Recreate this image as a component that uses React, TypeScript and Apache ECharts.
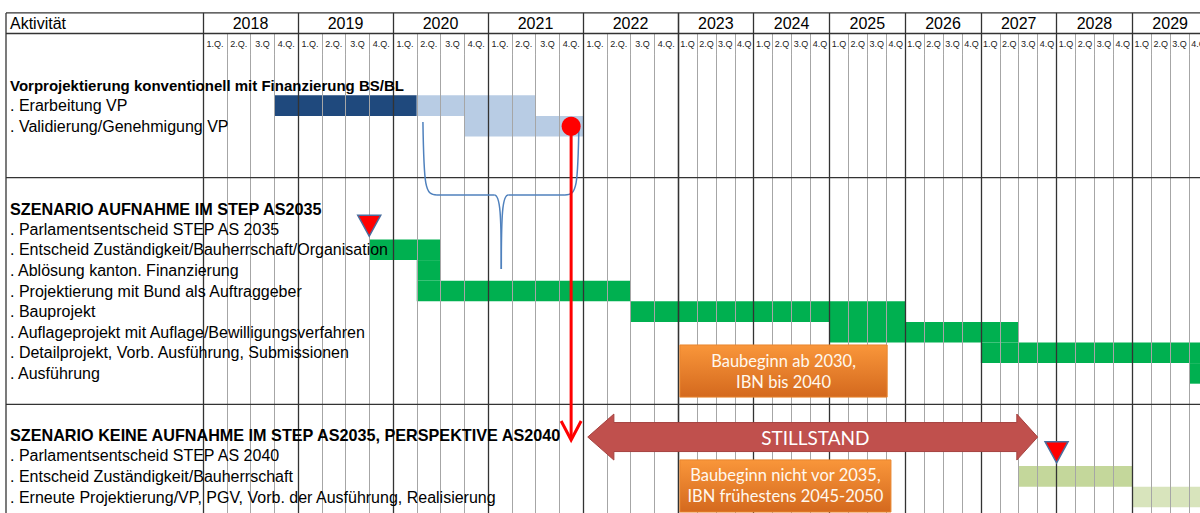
import React, { useEffect, useRef } from "react";
import * as echarts from "echarts";

const FONT = '"Liberation Sans", Arial, sans-serif';
const BOX_FONT = 'Lato, "Open Sans", sans-serif';

// Header labels
const YEARS_A = ["2018", "2019", "2020", "2021", "2022"];
const YEARS_B = ["2023", "2024", "2025", "2026", "2027", "2028", "2029"];
const Q_WIDE = ["1.Q.", "2.Q.", "3.Q", "4.Q."];
const Q_NARROW = ["1.Q", "2.Q", "3.Q", "4.Q"];
const QUARTERS_A = YEARS_A.flatMap(() => Q_WIDE);
const QUARTERS_B = YEARS_B.flatMap(() => Q_NARROW);

// Row labels (index = row position from the top of the body)
const ROWS = [
  "",
  "Vorprojektierung konventionell mit Finanzierung BS/BL",
  ". Erarbeitung VP",
  ". Validierung/Genehmigung VP",
  "",
  "",
  "",
  "SZENARIO AUFNAHME IM STEP AS2035",
  ". Parlamentsentscheid STEP AS 2035",
  ". Entscheid Zuständigkeit/Bauherrschaft/Organisation",
  ". Ablösung kanton. Finanzierung",
  ". Projektierung mit Bund als Auftraggeber",
  ". Bauprojekt",
  ". Auflageprojekt mit Auflage/Bewilligungsverfahren",
  ". Detailprojekt, Vorb. Ausführung, Submissionen",
  ". Ausführung",
  "",
  "",
  "SZENARIO KEINE AUFNAHME IM STEP AS2035, PERSPEKTIVE AS2040",
  ". Parlamentsentscheid STEP AS 2040",
  ". Entscheid Zuständigkeit/Bauherrschaft",
  ". Erneute Projektierung/VP, PGV, Vorb. der Ausführung, Realisierung",
  "",
];
const TITLE_ROWS = [1, 7, 18];
const ROW_IDS = ROWS.map((_, i) => "r" + i);

// Bars: time in quarters since 2018 Q1
const BAR_ROW = [2, 2, 3, 9, 10, 11, 12, 13, 14, 15, 20, 21];
const BAR_START = [3, 9, 11, 7, 9, 9, 18, 28, 36, 47, 38, 44];
const BAR_END = [9, 14, 16, 10, 10, 18, 32, 38, 48, 48, 44, 48];
const BAR_KIND = [0, 1, 1, 2, 2, 2, 2, 2, 2, 2, 3, 4];
const BAR_COLORS = ["#1F497D", "#B8CCE4", "#00B050", "#C4D79B", "#D8E4BC"];

// Milestones (Parlamentsentscheid)
const MS_Q = [7, 40];
const MS_ROW = [8, 19];

// Red decision point
const DOT_Q = 15.5;
const DOT_ROW = 3;
const ARROW_END_ROW = 18.23;

// Brace under phase 1
const BRACE_LEFT_Q = 9.26;
const BRACE_RIGHT_Q = 15.83;
const BRACE_MID_Q = 12.56;
const BRACE_TOP_ROW = 2.8;
const BRACE_LINE_ROW = 6.34;
const BRACE_TIP_ROW = 9.93;

// Stillstand arrow
const STILL_Q = [16.2, 17.3, 37.9, 39.0];
const STILL_ROW = 18.09;

// Orange notes
const NOTE_TEXT = ["Baubeginn ab 2030,\nIBN bis 2040", "Baubeginn nicht vor 2035,\nIBN frühestens 2045-2050"];
const NOTE_Q0 = [20.1, 20.1];
const NOTE_Q1 = [31.05, 31.25];
const NOTE_ROW0 = [13.62, 19.2];
const NOTE_ROW1 = [16.15, 21.73];

const BAR_DATA = BAR_ROW.map((r, i) => [BAR_START[i], BAR_END[i], r, BAR_KIND[i]]);

function quarterAxis(gridIndex: number, data: string[]) {
  return {
    type: "category",
    gridIndex,
    position: "top",
    data,
    z: 3,
    axisLine: { show: false },
    axisTick: { show: true, interval: 0, length: 20.6, lineStyle: { color: "#a6a6a6", width: 1 } },
    axisLabel: { interval: 0, fontSize: 9, fontFamily: FONT, color: "#222", margin: 5.5 },
    splitLine: { show: true, interval: 0, lineStyle: { color: "#a6a6a6", width: 1 } },
  };
}
function yearAxis(gridIndex: number, data: string[]) {
  return {
    type: "category",
    gridIndex,
    position: "top",
    data,
    z: 4,
    axisLine: { show: false },
    axisTick: { show: true, interval: 0, length: 41.2, lineStyle: { color: "#333", width: 1.3 } },
    axisLabel: { interval: 0, fontSize: 16, fontFamily: FONT, color: "#000", margin: 23 },
    splitLine: { show: true, interval: 0, lineStyle: { color: "#333", width: 1.3 } },
  };
}

const barRender = (params: any, api: any) => {
  const s = api.coord([api.value(0), api.value(2)]);
  const e = api.coord([api.value(1), api.value(2)]);
  const h = api.size([0, 1])[1];
  return {
    type: "rect",
    shape: { x: s[0], y: s[1] - h / 2, width: e[0] - s[0], height: h },
    style: { fill: BAR_COLORS[api.value(3)] },
  };
};

const option: any = {
  animation: false,
  backgroundColor: "#fff",
  grid: [
    { left: 203, top: 54.1, width: 475, height: 473.8, outerBoundsMode: "none", containLabel: false },
    { left: 678, top: 54.1, width: 530, height: 473.8, outerBoundsMode: "none", containLabel: false },
  ],
  xAxis: [
    { type: "value", gridIndex: 0, min: 0, max: 20, show: false },
    quarterAxis(0, QUARTERS_A),
    yearAxis(0, YEARS_A),
    { type: "value", gridIndex: 1, min: 20, max: 48, show: false },
    quarterAxis(1, QUARTERS_B),
    yearAxis(1, YEARS_B),
  ],
  yAxis: [
    {
      type: "category",
      gridIndex: 0,
      data: ROW_IDS,
      inverse: true,
      z: 5,
      axisLine: { show: false },
      axisTick: { show: false },
      splitLine: { show: false },
      axisLabel: {
        interval: 0,
        align: "left",
        margin: 193,
        formatter: (v: string) => {
          const i = ROW_IDS.indexOf(v);
          const t = ROWS[i];
          if (!t) return "";
          if (i === TITLE_ROWS[0]) return "{s|" + t + "}";
          return TITLE_ROWS.includes(i) ? "{t|" + t + "}" : "{n|" + t + "}";
        },
        rich: {
          s: { fontWeight: "bold", fontSize: 15, fontFamily: FONT, color: "#000" },
          t: { fontWeight: "bold", fontSize: 16.2, fontFamily: FONT, color: "#000" },
          n: { fontSize: 16, fontFamily: FONT, color: "#000" },
        },
      },
    },
    { type: "category", gridIndex: 1, data: ROW_IDS, inverse: true, show: false },
  ],
  series: [
    {
      type: "custom",
      xAxisIndex: 0,
      yAxisIndex: 0,
      clip: true,
      z: 1,
      encode: { x: [0, 1], y: 2 },
      renderItem: barRender,
      data: BAR_DATA,
    },
    {
      type: "custom",
      xAxisIndex: 3,
      yAxisIndex: 1,
      clip: true,
      z: 1,
      encode: { x: [0, 1], y: 2 },
      renderItem: barRender,
      data: BAR_DATA,
    },
    {
      type: "scatter",
      xAxisIndex: 0,
      yAxisIndex: 0,
      z: 8,
      symbol: "triangle",
      symbolRotate: 180,
      symbolSize: [23, 21],
      symbolOffset: [0, -3.5],
      itemStyle: { color: "#FF0000", borderColor: "#4A6E9E", borderWidth: 1.5, opacity: 1 },
      data: MS_Q.map((q, i) => [q, MS_ROW[i]]).filter((d) => d[0] < 20),
    },
    {
      type: "scatter",
      xAxisIndex: 3,
      yAxisIndex: 1,
      z: 8,
      symbol: "triangle",
      symbolRotate: 180,
      symbolSize: [23, 21],
      symbolOffset: [0, -3.5],
      itemStyle: { color: "#FF0000", borderColor: "#4A6E9E", borderWidth: 1.5, opacity: 1 },
      data: MS_Q.map((q, i) => [q, MS_ROW[i]]).filter((d) => d[0] >= 20),
    },
    {
      type: "scatter",
      xAxisIndex: 0,
      yAxisIndex: 0,
      z: 12,
      symbol: "circle",
      symbolSize: 19,
      itemStyle: { color: "#FF0000", opacity: 1 },
      data: [[DOT_Q, DOT_ROW]],
    },
  ],
};

export default function App() {
  const ref = useRef<HTMLDivElement>(null);
  useEffect(() => {
    const chart = echarts.init(ref.current!, null, { renderer: "svg" });
    chart.setOption(option);

    const xPix = (q: number) => chart.convertToPixel({ xAxisIndex: q < 20 ? 0 : 3 }, q) as number;
    const y0 = chart.convertToPixel({ yAxisIndex: 0 }, 0) as number;
    const y1 = chart.convertToPixel({ yAxisIndex: 0 }, 1) as number;
    const band = y1 - y0;
    const yPix = (r: number) => y0 + r * band;
    const gridTop = yPix(-0.5);
    const headTop = gridTop - 2 * band;
    const headMid = gridTop - band;
    const LEFT = 6;
    const RIGHT = 1210;
    const dark = { stroke: "#333", lineWidth: 1.3 };

    const g: any[] = [];
    // table frame
    g.push({ type: "line", z: 6, shape: { x1: LEFT, y1: headTop, x2: RIGHT, y2: headTop }, style: dark });
    g.push({ type: "line", z: 6, shape: { x1: LEFT, y1: headMid, x2: RIGHT, y2: headMid }, style: dark });
    g.push({ type: "line", z: 6, shape: { x1: LEFT, y1: yPix(5.5), x2: RIGHT, y2: yPix(5.5) }, style: dark });
    g.push({ type: "line", z: 6, shape: { x1: LEFT, y1: yPix(16.5), x2: RIGHT, y2: yPix(16.5) }, style: dark });
    g.push({ type: "line", z: 6, shape: { x1: LEFT, y1: headTop, x2: LEFT, y2: 520 }, style: dark });
    g.push({
      type: "text",
      z: 6,
      x: 10,
      y: headTop + band / 2,
      style: { text: "Aktivität", fill: "#000", fontSize: 16, fontFamily: FONT, align: "left", verticalAlign: "middle" },
    });

    // brace
    const bl = xPix(BRACE_LEFT_Q);
    const br = xPix(BRACE_RIGHT_Q);
    const bm = xPix(BRACE_MID_Q);
    const bt = yPix(BRACE_TOP_ROW);
    const bh = yPix(BRACE_LINE_ROW);
    const bd = yPix(BRACE_TIP_ROW);
    const braceStyle = { stroke: "#4F81BD", lineWidth: 1.5, fill: "none" };
    g.push({ type: "bezierCurve", z: 9, shape: { x1: bl, y1: bt, cpx1: bl + 1, cpy1: bh - 8, cpx2: bl + 2, cpy2: bh, x2: bl + 14, y2: bh }, style: braceStyle });
    g.push({ type: "line", z: 9, shape: { x1: bl + 14, y1: bh, x2: bm - 7, y2: bh }, style: braceStyle });
    g.push({ type: "bezierCurve", z: 9, shape: { x1: bm - 7, y1: bh, cpx1: bm - 1, cpy1: bh, cpx2: bm, cpy2: bh + 20, x2: bm, y2: bd }, style: braceStyle });
    g.push({ type: "bezierCurve", z: 9, shape: { x1: bm, y1: bd, cpx1: bm, cpy1: bh + 20, cpx2: bm + 1, cpy2: bh, x2: bm + 7, y2: bh }, style: braceStyle });
    g.push({ type: "line", z: 9, shape: { x1: bm + 7, y1: bh, x2: br - 14, y2: bh }, style: braceStyle });
    g.push({ type: "bezierCurve", z: 9, shape: { x1: br - 14, y1: bh, cpx1: br - 2, cpy1: bh, cpx2: br - 1, cpy2: bh - 8, x2: br, y2: bt }, style: braceStyle });

    // red arrow
    const dx = xPix(DOT_Q);
    const dy = yPix(DOT_ROW);
    const ay = yPix(ARROW_END_ROW);
    g.push({ type: "line", z: 11, shape: { x1: dx, y1: dy, x2: dx, y2: ay - 1 }, style: { stroke: "#FF0000", lineWidth: 3 } });
    g.push({
      type: "polyline",
      z: 11,
      shape: { points: [[dx - 10, ay - 19], [dx, ay], [dx + 10, ay - 19]] },
      style: { stroke: "#FF0000", lineWidth: 3, fill: "none" },
    });

    // STILLSTAND double arrow
    const [t1, h1, h2, t2] = STILL_Q.map(xPix);
    const sc = yPix(STILL_ROW);
    const HH = 23;
    const BH = 14.5;
    g.push({
      type: "polygon",
      z: 10,
      shape: {
        points: [
          [t1, sc], [h1, sc - HH], [h1, sc - BH], [h2, sc - BH], [h2, sc - HH],
          [t2, sc], [h2, sc + HH], [h2, sc + BH], [h1, sc + BH], [h1, sc + HH],
        ],
      },
      style: { fill: "#C0504D", stroke: "#A5423F", lineWidth: 1 },
    });
    g.push({
      type: "text",
      z: 11,
      x: (h1 + h2) / 2,
      y: sc,
      style: { text: "STILLSTAND", fill: "#fff", fontSize: 19, fontFamily: BOX_FONT, align: "center", verticalAlign: "middle" },
    });

    // orange notes
    NOTE_TEXT.forEach((txt, i) => {
      const x0 = xPix(NOTE_Q0[i]);
      const x1 = xPix(NOTE_Q1[i]);
      const ya = yPix(NOTE_ROW0[i]);
      const yb = yPix(NOTE_ROW1[i]);
      g.push({
        type: "rect",
        z: 10,
        shape: { x: x0, y: ya, width: x1 - x0, height: yb - ya },
        style: {
          fill: {
            type: "linear", x: 0, y: 0, x2: 0, y2: 1,
            colorStops: [
              { offset: 0, color: "#F9963A" },
              { offset: 1, color: "#D4691E" },
            ],
          },
          stroke: "#E9862F",
          lineWidth: 1,
        },
      });
      g.push({
        type: "text",
        z: 11,
        x: (x0 + x1) / 2,
        y: (ya + yb) / 2,
        style: { text: txt, fill: "#FFF8EE", fontSize: 16.5, lineHeight: 21, fontFamily: BOX_FONT, align: "center", verticalAlign: "middle" },
      });
    });

    chart.setOption({ graphic: g });
    return () => chart.dispose();
  }, []);
  return <div ref={ref} style={{ position: "fixed", left: 0, top: 0, width: 1200, height: 513 }} />;
}
